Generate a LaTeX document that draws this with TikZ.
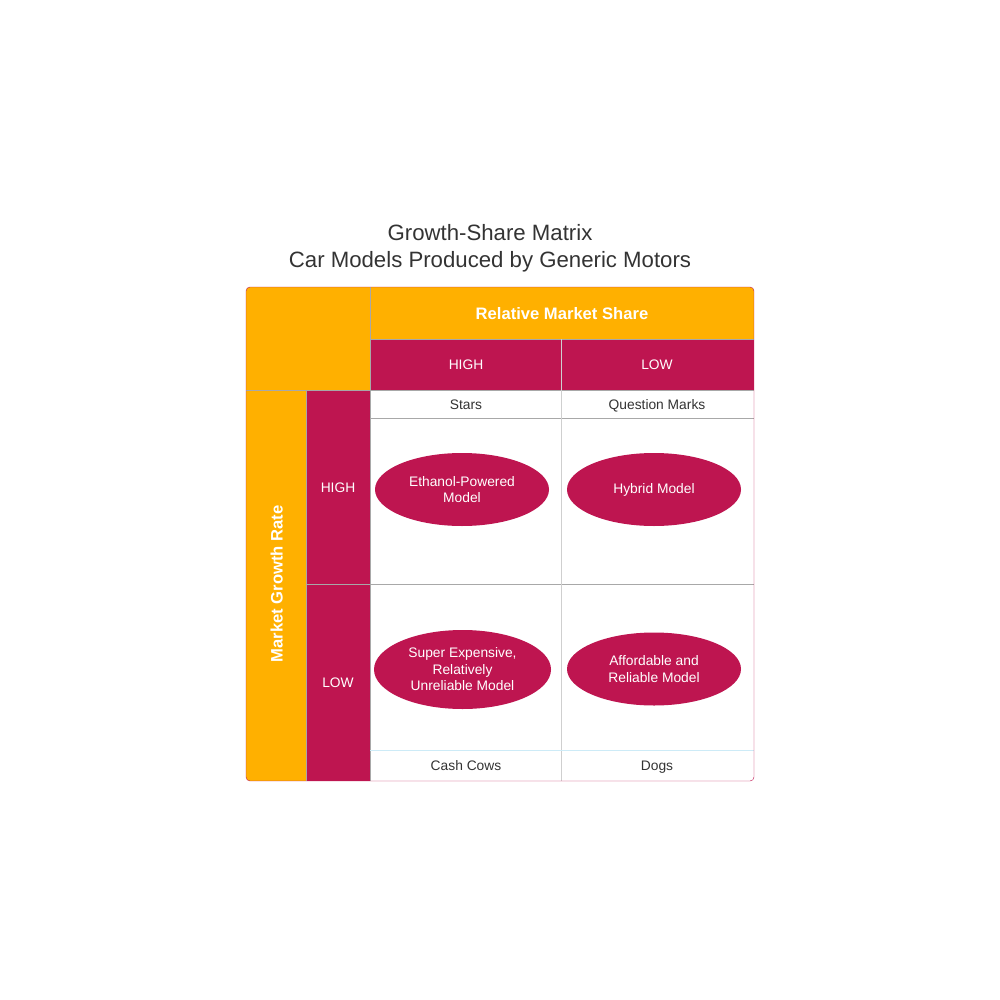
\documentclass[tikz,border=0pt]{standalone}
\usepackage{fontspec}
\setmainfont{Liberation Sans}
\usetikzlibrary{shapes.geometric}
\definecolor{gsorange}{HTML}{FFB000}
\definecolor{gscrimson}{HTML}{BE1550}
\definecolor{gsgrid}{HTML}{A8A8A8}
\definecolor{gslight}{HTML}{CFCFCF}
\definecolor{gsblue}{HTML}{CDEBF7}
\definecolor{gstext}{HTML}{333333}

\begin{document}
\begin{tikzpicture}[x=1pt, y=-1pt,
		head/.style = {text = white, text height = 11pt, text depth = 0pt, font = \fontsize{13.8}{16}\selectfont},
		quad/.style = {text = gstext, text height = 11pt, text depth = 0pt, font = \fontsize{13.8}{16}\selectfont},
		bighead/.style = {head, text height = 13pt, font = \fontsize{16.6}{18}\selectfont\bfseries},
		model/.style = {ellipse, fill = gscrimson, text = white, align = center, inner sep = 0pt,
			font = \fontsize{13.8}{16.5}\selectfont}]
				\useasboundingbox (0,0) rectangle (1000,1000);
				\node[text = gstext, align = center, font = \fontsize{22.2}{27}\selectfont] (title) at (490,248)
					{Growth-Share Matrix\\Car Models Produced by Generic Motors};
				\begin{scope}
					\clip[rounded corners = 4] (246,287) rectangle (754,781);
					\fill[white] (246,287) rectangle (754,781);
					\fill[gsorange] (246,287) rectangle (754,339);
					\fill[gsorange] (246,339) rectangle (370,390);
					\fill[gsorange] (246,390) rectangle (306,781);
					\fill[gscrimson] (370,339) rectangle (754,390);
					\fill[gscrimson] (306,390) rectangle (370,781);
				\end{scope}
				\draw[gsgrid] (370,287) -- (370,781);
				\draw[gsgrid] (370,339) -- (754,339);
				\draw[gsgrid] (246,390) -- (754,390);
				\draw[gsgrid] (306,390) -- (306,781);
				\draw[gsgrid] (370,418) -- (754,418);
				\draw[gsgrid] (306,584) -- (754,584);
				\draw[gslight] (561,339) -- (561,781);
				\draw[gsblue] (370,750) -- (754,750);
				\draw[gscrimson, rounded corners = 4] (246,287) rectangle (754,781);
				\node[bighead] (share) at (562,313) {Relative Market Share};
				\node[head] (shareHigh) at (466,364) {HIGH};
				\node[head] (shareLow) at (657,364) {LOW};
				\node[bighead, rotate = 90] (growth) at (276,584) {Market Growth Rate};
				\node[head] (growthHigh) at (338,487) {HIGH};
				\node[head] (growthLow) at (338,682) {LOW};
				\node[quad] (stars) at (466,404) {Stars};
				\node[quad] (question) at (657,404) {Question Marks};
				\node[quad] (cows) at (466,765) {Cash Cows};
				\node[quad] (dogs) at (657,765) {Dogs};
				\node[model, minimum width = 174, minimum height = 73] (ethanol) at (462,489.5) {Ethanol-Powered\\Model};
				\node[model, minimum width = 174, minimum height = 73] (hybrid) at (654,489.5) {Hybrid Model};
				\node[model, minimum width = 177, minimum height = 79] (expensive) at (462.5,669.5) {Super Expensive,\\Relatively\\Unreliable Model};
				\node[model, minimum width = 174, minimum height = 73] (affordable) at (654,669) {Affordable and\\Reliable Model};
\end{tikzpicture}
\end{document}
